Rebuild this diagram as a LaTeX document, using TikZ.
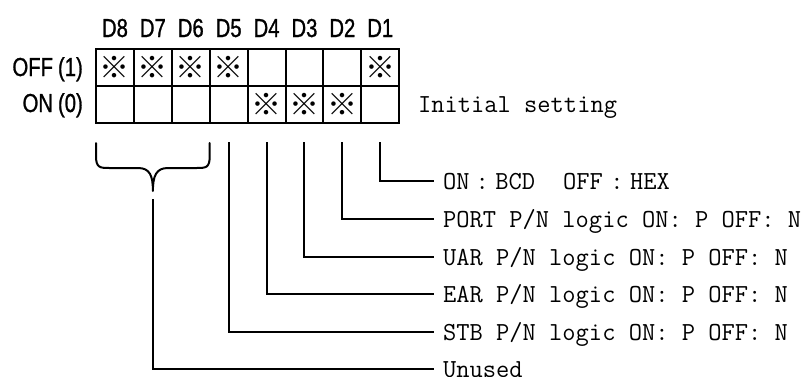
\documentclass[tikz,border=0pt]{standalone}
\usepackage{fontspec}
\setmainfont{Liberation Serif}
\newfontfamily\labfont[FakeStretch=0.78,FakeBold=1]{Liberation Sans}
\newfontfamily\txtfont[FakeStretch=0.99]{Latin Modern Mono}
\newfontfamily\cjkfont{Noto Sans CJK JP}
\usetikzlibrary{calc}

\begin{document}
\begin{tikzpicture}[x=1pt,y=-1pt,
  cell/.style={draw=black, line width=2pt, minimum width=37.9pt, minimum height=37pt,
               inner sep=0pt, outer sep=0pt, font=\cjkfont\fontsize{30}{30}\selectfont},
  bitlab/.style={font=\labfont\fontsize{26}{26}\selectfont, inner sep=0pt, anchor=base},
  rowlab/.style={font=\labfont\fontsize{26}{26}\selectfont, inner sep=0pt, anchor=base east},
  desc/.style={font=\txtfont\fontsize{26}{26}\selectfont, inner sep=0pt, anchor=base west},
  wire/.style={line width=2pt, line cap=rect}]
\useasboundingbox (0,0) rectangle (807,376);

% switch table: upper row OFF(1), lower row ON(0); D8 on the left
\foreach \i/\up/\dn in {8/1/0,7/1/0,6/1/0,5/1/0,4/0/1,3/0/1,2/0/1,1/1/0} {
  \pgfmathsetmacro{\cx}{96+(8-\i+0.5)*37.9}
  \node[cell] (off\i) at (\cx,67.5) {\ifnum\up=1 ※\fi};
  \node[cell] (on\i)  at (\cx,104.5) {\ifnum\dn=1 ※\fi};
  \node[bitlab] (d\i) at (\cx,37) {D\i};
  \coordinate (t\i) at ($(on\i.south)+(0,20)$);
}

\node[rowlab] (offlab) at (83,76) {OFF\hspace{5pt}(1)};
\node[rowlab] (onlab)  at (83,112) {ON\hspace{5pt}(0)};
\node[desc] (init) at (418,112.5) {Initial setting};

% line ends and their descriptions
\foreach \k/\y/\txt in {
  1/181/{ON\hspace{6pt}:\hspace{6.4pt}BCD\hspace{28pt}OFF\hspace{7.5pt}:\hspace{6.4pt}HEX},
  2/219/{PORT P/N logic ON: P OFF: N},
  3/257/{UAR P/N logic ON: P OFF: N},
  4/294/{EAR P/N logic ON: P OFF: N},
  5/332/{STB P/N logic ON: P OFF: N},
  6/369/{Unused}} {
  \coordinate (e\k) at (433,\y);
  \node[desc] (l\k) at ($(e\k)+(10,8)$) {\txt};
}

\draw[wire] (t1) |- (e1);
\draw[wire] (t2) |- (e2);
\draw[wire] (t3) |- (e3);
\draw[wire] (t4) |- (e4);
\draw[wire] (t5) |- (e5);

% brace grouping D8 to D6
\coordinate (bl) at ($(off8.north west |- t8)$);
\coordinate (br) at ($(off6.north east |- t6)$);
\coordinate (tip) at ($(t7)+(0,48)$);
\coordinate (stem) at ($(t7)+(0,57)$);
\draw[line width=2pt, line cap=round, line join=round]
  (bl) -- ++(0,13) .. controls ++(0,12) and (100,168) .. (110,168) -- (138,168)
  .. controls (150,168) and (153,176) .. (tip)
  .. controls (153,176) and (156,168) .. (168,168) -- (196,168)
  .. controls (206,168) and ($(br)+(0,25)$) .. ($(br)+(0,13)$) -- (br);
\draw[wire] (stem) |- (e6);
\end{tikzpicture}
\end{document}
